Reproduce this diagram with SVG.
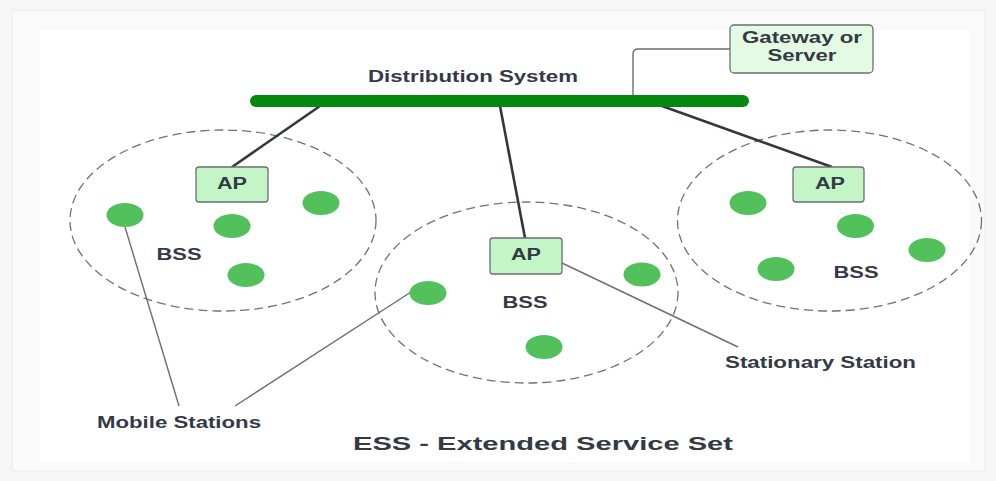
<svg xmlns="http://www.w3.org/2000/svg" width="996" height="481" viewBox="0 0 996 481">
  <style>
    .lbl { font-family: "Liberation Sans", Arial, sans-serif; font-weight: bold; fill: #333a45; }
    .sm { font-size: 16px; }
    .box { fill: #c4f5c6; stroke: #6b6f73; stroke-width: 1.3; }
    .gw { fill: #e3fae3; stroke: #6b6f73; stroke-width: 1.3; }
    .bss { fill: none; stroke: #6f7275; stroke-width: 1.3; stroke-dasharray: 9 5; }
    .sta { fill: #52c15c; }
    .uplink { stroke: #333840; stroke-width: 2.6; fill: none; }
    .leader { stroke: #6b6e72; stroke-width: 1.4; fill: none; }
  </style>

  <!-- page background and card -->
  <rect x="0" y="0" width="996" height="481" fill="#f6f6f6"/>
  <rect x="12" y="10" width="973" height="461" fill="#fafafa" stroke="#ececec" stroke-width="1"/>
  <rect x="40" y="30" width="930" height="432" fill="#ffffff"/>

  <!-- BSS coverage areas -->
  <g id="bss-left">
    <ellipse class="bss" cx="223" cy="220.5" rx="153" ry="90.5"/>
    <text class="lbl sm" x="179" y="260" text-anchor="middle" textLength="45" lengthAdjust="spacingAndGlyphs">BSS</text>
  </g>
  <g id="bss-middle">
    <ellipse class="bss" cx="526.5" cy="292.5" rx="151.5" ry="90.5"/>
    <text class="lbl sm" x="525" y="308" text-anchor="middle" textLength="45" lengthAdjust="spacingAndGlyphs">BSS</text>
  </g>
  <g id="bss-right">
    <ellipse class="bss" cx="829.5" cy="220.5" rx="152" ry="90.5"/>
    <text class="lbl sm" x="856" y="278" text-anchor="middle" textLength="45" lengthAdjust="spacingAndGlyphs">BSS</text>
  </g>

  <!-- connectors -->
  <g id="connectors">
    <path class="uplink" d="M320 106 L232 167"/>
    <path class="uplink" d="M500 106 L525 238"/>
    <path class="uplink" d="M662 106 L832 167"/>
    <path class="leader" d="M633 95 L633 54 Q633 49 638 49 L730 49"/>
    <path class="leader" d="M125 227 L179 406"/>
    <path class="leader" d="M411 292 L235 406"/>
    <path class="leader" d="M562 263 L738 347"/>
  </g>

  <!-- distribution system bus -->
  <g id="distribution-system">
    <line x1="256" y1="101" x2="743" y2="101" stroke="#05880f" stroke-width="12" stroke-linecap="round"/>
    <text class="lbl" font-size="16" x="473" y="82" text-anchor="middle" textLength="210" lengthAdjust="spacingAndGlyphs">Distribution System</text>
  </g>

  <g id="gateway">
    <rect class="gw" x="730" y="25" width="143" height="48" rx="4"/>
    <text class="lbl sm" x="802" y="43" text-anchor="middle" textLength="120" lengthAdjust="spacingAndGlyphs">Gateway or</text>
    <text class="lbl sm" x="802" y="61" text-anchor="middle" textLength="69" lengthAdjust="spacingAndGlyphs">Server</text>
  </g>

  <!-- access points -->
  <g id="ap-left">
    <rect class="box" x="196" y="167" width="72" height="35" rx="3"/>
    <text class="lbl sm" x="232" y="189" text-anchor="middle" textLength="30" lengthAdjust="spacingAndGlyphs">AP</text>
  </g>
  <g id="ap-middle">
    <rect class="box" x="490" y="238" width="72" height="36" rx="3"/>
    <text class="lbl sm" x="526" y="260" text-anchor="middle" textLength="30" lengthAdjust="spacingAndGlyphs">AP</text>
  </g>
  <g id="ap-right">
    <rect class="box" x="793" y="167" width="71" height="35" rx="3"/>
    <text class="lbl sm" x="830" y="189" text-anchor="middle" textLength="30" lengthAdjust="spacingAndGlyphs">AP</text>
  </g>

  <!-- stations -->
  <g id="stations-left">
    <ellipse class="sta" cx="125" cy="215" rx="18.5" ry="12"/>
    <ellipse class="sta" cx="232" cy="226" rx="18.5" ry="12"/>
    <ellipse class="sta" cx="321" cy="203" rx="18.5" ry="12"/>
    <ellipse class="sta" cx="246" cy="275" rx="18.5" ry="12"/>
  </g>
  <g id="stations-middle">
    <ellipse class="sta" cx="428" cy="293" rx="18.5" ry="12"/>
    <ellipse class="sta" cx="642" cy="274.5" rx="18.5" ry="12"/>
    <ellipse class="sta" cx="544" cy="347" rx="18.5" ry="12"/>
  </g>
  <g id="stations-right">
    <ellipse class="sta" cx="748" cy="203" rx="18.5" ry="12"/>
    <ellipse class="sta" cx="855.5" cy="226" rx="18.5" ry="12"/>
    <ellipse class="sta" cx="927" cy="250" rx="18.5" ry="12"/>
    <ellipse class="sta" cx="776" cy="269" rx="18.5" ry="12"/>
  </g>

  <!-- labels -->
  <g id="mobile-stations-label">
    <text class="lbl sm" x="179" y="428" text-anchor="middle" textLength="164" lengthAdjust="spacingAndGlyphs">Mobile Stations</text>
  </g>
  <g id="stationary-station-label">
    <text class="lbl sm" x="820.5" y="368" text-anchor="middle" textLength="191" lengthAdjust="spacingAndGlyphs">Stationary Station</text>
  </g>
  <g id="title">
    <text class="lbl" font-size="19" x="543" y="450" text-anchor="middle" textLength="380" lengthAdjust="spacingAndGlyphs">ESS - Extended Service Set</text>
  </g>
</svg>
